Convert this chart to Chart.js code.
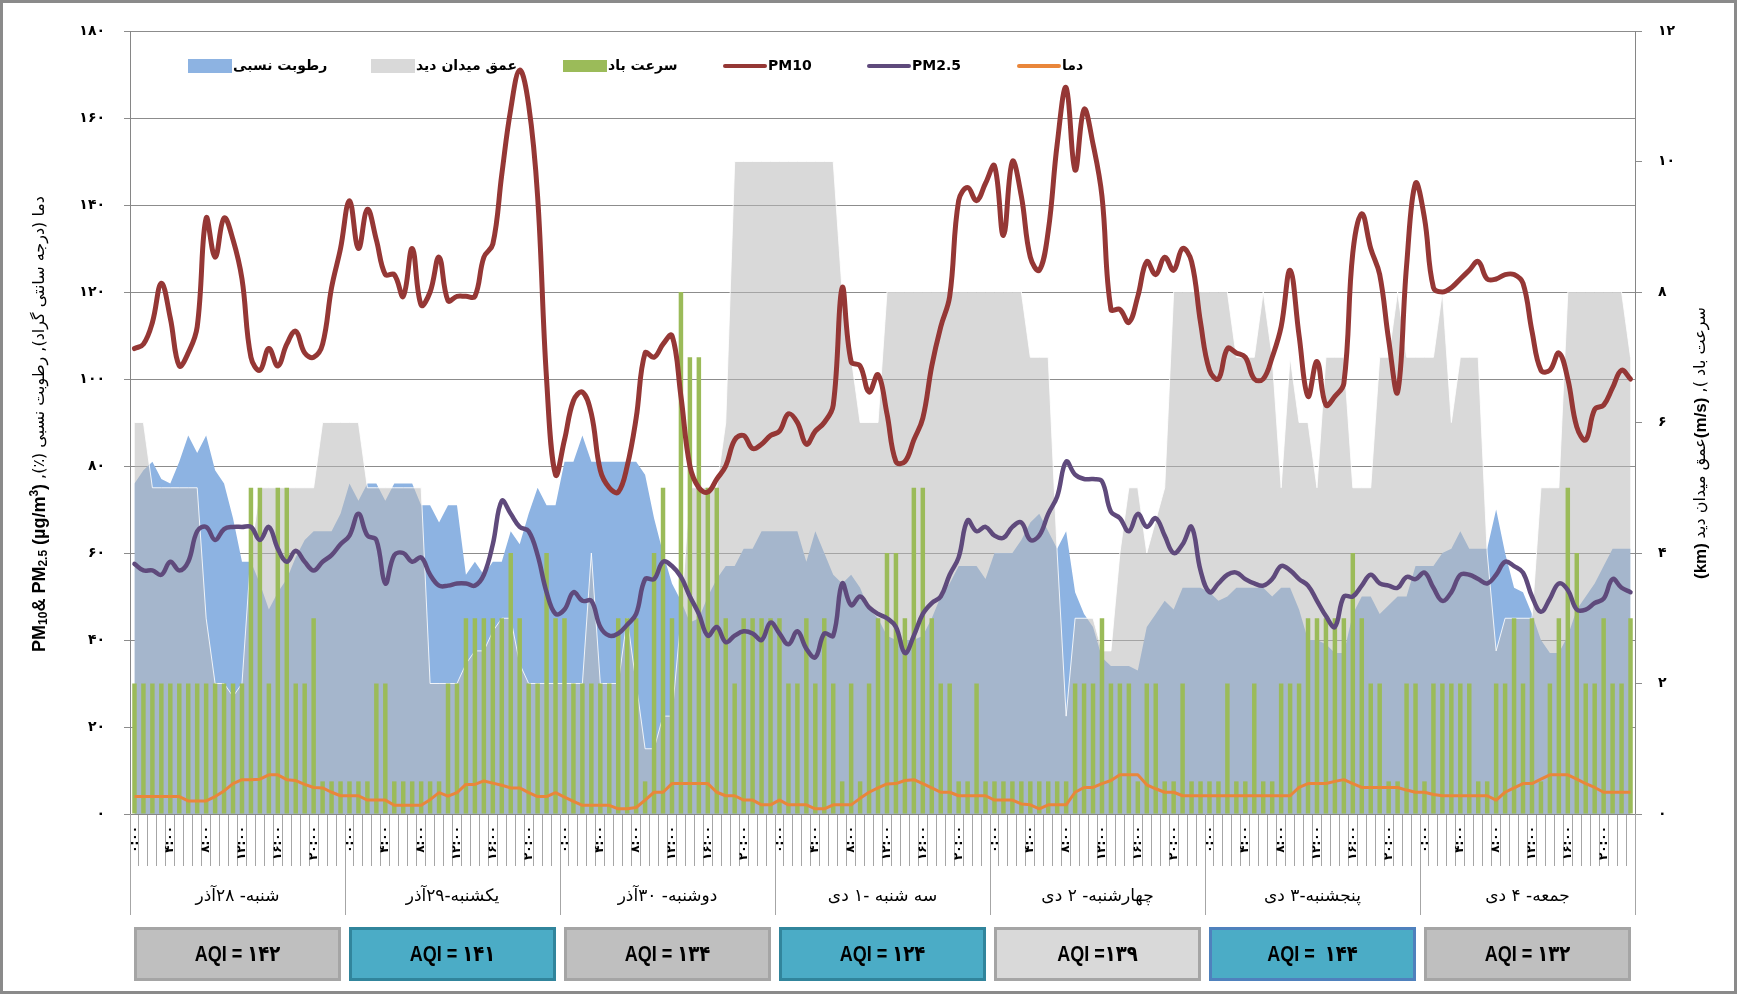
<!DOCTYPE html>
<html>
<head>
<meta charset="utf-8">
<script src="https://cdn.jsdelivr.net/npm/chart.js@4.4.1/dist/chart.umd.min.js"></script>
<style>
  html, body { margin: 0; padding: 0; background: #fff; overflow: hidden; }
  #wrap { position: relative; width: 1737px; height: 994px; }
</style>
</head>
<body>
<div id="wrap"><canvas id="chart" width="1737" height="994"></canvas></div>
<script>
// روزها و ساعت ها
const days = ['شنبه- ۲۸آذر', 'یکشنبه-۲۹آذر', 'دوشنبه- ۳۰آذر', 'سه شنبه -۱ دی',
              'چهارشنبه- ۲ دی', 'پنجشنبه-۳ دی', 'جمعه- ۴ دی'];
const hourTicks = ['۰:۰۰', '۴:۰۰', '۸:۰۰', '۱۲:۰۰', '۱۶:۰۰', '۲۰:۰۰'];
const aqiLabels = ['AQI = ۱۴۲', 'AQI = ۱۴۱', 'AQI = ۱۳۴', 'AQI = ۱۲۴', 'AQI =۱۳۹', 'AQI =  ۱۴۴', 'AQI = ۱۳۲'];
const aqiFill = ['#bfbfbf', '#4bacc6', '#bfbfbf', '#4bacc6', '#d9d9d9', '#4bacc6', '#bfbfbf'];
const aqiBorder = ['#a5a5a5', '#31859c', '#a5a5a5', '#31859c', '#a5a5a5', '#4f81bd', '#a5a5a5'];

// رطوبت نسبی (%)
const humidity = [
  76,79,81,77,76,81,87,83,87,79,76,68,58,58,53,47,51,54,59,63,65,65,65,69,
  76,72,76,76,72,76,76,76,71,71,67,71,71,55,58,55,58,58,65,62,69,75,71,71,
  81,81,87,81,81,81,81,81,81,78,68,60,53,49,44,45,50,54,57,57,61,61,65,65,
  65,65,65,58,65,60,55,53,55,52,47,45,41,40,40,40,41,45,50,53,57,57,57,54,
  60,60,60,63,67,69,65,61,65,51,46,43,36,34,34,34,33,43,46,49,47,52,52,52,
  51,49,50,52,52,52,52,50,52,52,47,40,40,39,37,37,46,50,50,46,48,50,50,57,
  57,57,60,61,65,61,61,61,70,60,52,51,46,40,37,37,41,47,50,53,57,61,61,61
];
// عمق میدان دید (km)
const visibility = [
  6,6,5,5,5,5,5,5,3,2,2,1.8,2,4,5,5,5,5,5,5,5,6,6,6,
  6,6,5,5,5,5,5,5,5,2,2,2,2,2.3,2.5,2.5,2.8,3,3,2.3,2,2,2,2,
  2,2,2,4,2,2,2,3,2,1,1,1.5,1.5,3,5,5,5,5,6,10,10,10,10,10,
  10,10,10,10,10,10,10,8,7,6,6,6,8,8,8,8,8,8,8,8,8,8,8,8,
  8,8,8,8,7,7,7,4,1.5,3,3,3,2.5,2.5,4,5,5,4,4.5,5,8,8,8,8,
  8,8,8,7,7,7,8,7,5,7,6,6,5,7,7,7,5,5,5,7,7,8,7,7,
  7,7,8,6,7,7,7,4,2.5,3,3,3,3,5,5,5,8,8,8,8,8,8,8,7
];
// سرعت باد (m/s)
const wind = [
  2,2,2,2,2,2,2,2,2,2,2,2,2,5,5,2,5,5,2,2,3,0.5,0.5,0.5,
  0.5,0.5,0.5,2,2,0.5,0.5,0.5,0.5,0.5,0.5,2,2,3,3,3,3,3,4,3,2,2,4,3,
  3,2,2,2,2,2,3,3,3,0.5,4,5,3,8,7,7,5,5,3,2,3,3,3,3,
  3,2,2,3,2,3,2,0.5,2,0.5,2,3,4,4,3,5,5,3,2,2,0.5,0.5,2,0.5,
  0.5,0.5,0.5,0.5,0.5,0.5,0.5,0.5,0.5,2,2,2,3,2,2,2,0.5,2,2,0.5,0.5,2,0.5,0.5,
  0.5,0.5,2,0.5,0.5,2,0.5,0.5,2,2,2,3,3,3,3,3,4,3,2,2,0.5,0.5,2,2,
  0.5,2,2,2,2,2,0.5,0.5,2,2,3,2,3,0.5,2,3,5,4,2,2,3,2,2,3
];
// PM10 (µg/m3)
const pm10 = [
  107,108,113,122,114,103,106,112,137,128,137,132,123,105,102,107,103,108,111,106,105,108,121,130,
  141,130,139,132,124,124,119,130,117,120,128,118,119,119,119,128,131,147,162,171,163,142,100,78,
  86,95,97,92,79,75,74,80,91,106,105,108,110,96,80,75,74,77,80,86,87,84,85,87,
  88,92,90,85,88,90,94,121,104,103,97,101,92,81,81,86,91,103,112,119,141,144,141,145,
  149,133,150,142,128,125,134,154,167,148,162,154,142,116,116,113,119,127,124,128,125,130,127,113,
  102,100,107,106,105,100,100,105,112,125,110,96,104,94,96,99,129,138,130,124,109,97,126,145,
  137,121,120,121,123,125,127,123,123,124,124,122,111,102,102,106,100,89,86,93,94,98,102,100
];
// PM2.5 (µg/m3)
const pm25 = [
  57.5,56,56,55,58,56,58,65,66,63,65.5,66,66,66,63,66,61,58,60.5,58,56,58,59.5,62,
  64,69,64,63,53,59.5,60,58,59,55,52.5,52.5,53,53,52.5,55,62,72,69,66,65,59.5,51,46,
  47,51,49,49,43,41,41.5,43.5,46,54,54,58,57,54.5,50,46,41,43,39.5,41,42,41.5,40,44,
  41.5,39,42,38,36,41.5,41,53,48,50,47.5,46,45,43,37,41,46,48.5,50,55,59,67.5,65,66,
  64,63.5,66,67,63,64,69,73,81,78,77,77,76.5,69.5,68,65,69,66,68,64,60,62,66,56,
  51,53,55,55.5,54,53,52.5,54,57,56,54,52.5,49,45.5,43,50,50,52.5,55,53,52.5,52,54.5,54,
  55.5,52,49,51,55,55,54,53,55,58,57,55.5,50,46.5,49.5,53,51.5,47,47,48.5,49.5,54,52,51
];
// دما (درجه سانتی گراد)
const temperature = [
  4,4,4,4,4,4,3,3,3,4,5.3,7,7.9,7.9,8,9,9,7.9,7.7,6.8,6.1,6,5,4.2,
  4.2,4.2,3.2,3.2,3.2,2,2,2,2,3.3,4.9,4.1,4.9,6.8,6.8,7.6,7.1,6.6,6,6,4.9,4,4,4.9,
  3.9,2.9,2,2,2,2,1.2,1.2,1.5,3.2,5,5,7,7,7,7,7,5,4.2,4.2,3.2,3.2,2.1,2.1,
  3.2,2.1,2.1,2.1,1.2,1.2,2.1,2.1,2.1,3.6,5,6,6.9,7,7.7,7.9,7,6,5,5,4.2,4.2,4.2,4.2,
  3.2,3.2,3.2,2.3,2.1,1.2,2.1,2.1,2.1,5,6.1,6.1,7,7.7,9,9,9,6.7,5.8,5,5,4.2,4.2,4.2,
  4.2,4.2,4.2,4.2,4.2,4.2,4.2,4.2,4.2,4.2,6.1,7,7,7,7.5,7.9,7,6.1,6.1,6.1,6.1,6.1,5.5,5,
  5,4.5,4.2,4.2,4.2,4.2,4.2,4.2,3.2,5,6,7,7,8,9,9,9,8,7,6.1,5,5,5,5
];

const toFa = s => String(s).replace(/\d/g, d => '۰۱۲۳۴۵۶۷۸۹'[d]);

// یک دسته برای هر ساعت
const labels = [];
days.forEach((d, k) => { for (let h = 0; h < 24; h++) labels.push(k + '-' + h); });

const FA = '"DejaVu Sans", sans-serif';
const BOLD_LAT = '"Liberation Sans", "DejaVu Sans", sans-serif';

function drawRotated(ctx, segs, cx, cy) {
  ctx.save();
  ctx.translate(cx, cy);
  ctx.rotate(-Math.PI / 2);
  ctx.textBaseline = 'middle';
  ctx.fillStyle = '#000';
  let total = 0;
  segs.forEach(s => {
    ctx.font = s.font; ctx.direction = s.dir || 'ltr';
    s.w = ctx.measureText(s.text).width; total += s.w;
  });
  let x = -total / 2;
  segs.forEach(s => {
    ctx.font = s.font;
    ctx.direction = s.dir || 'ltr';
    ctx.textAlign = s.dir === 'rtl' ? 'right' : 'left';
    ctx.fillText(s.text, s.dir === 'rtl' ? x + s.w : x, s.dy || 0);
    x += s.w;
  });
  ctx.restore();
}

const decor = {
  id: 'decor',
  afterDraw(chart) {
    const ctx = chart.ctx, xs = chart.scales.x, area = chart.chartArea;
    const step = xs.getPixelForValue(1) - xs.getPixelForValue(0);
    ctx.save();

    // جداکننده روزها، نام روز و جعبه AQI
    for (let k = 0; k < days.length; k++) {
      const x0 = xs.getPixelForValue(k * 24) - step / 2;
      const x1 = xs.getPixelForValue(k * 24 + 23) + step / 2;
      ctx.strokeStyle = '#a6a6a6';
      ctx.lineWidth = 1;
      ctx.beginPath();
      ctx.moveTo(Math.round(x0) + 0.5, area.bottom);
      ctx.lineTo(Math.round(x0) + 0.5, area.bottom + 101);
      if (k === days.length - 1) {
        ctx.moveTo(Math.round(x1) + 0.5, area.bottom);
        ctx.lineTo(Math.round(x1) + 0.5, area.bottom + 101);
      }
      ctx.stroke();

      ctx.fillStyle = '#000';
      ctx.font = '17px ' + FA;
      ctx.textAlign = 'center';
      ctx.textBaseline = 'middle';
      ctx.direction = 'rtl';
      ctx.fillText(days[k], (x0 + x1) / 2, area.bottom + 83);
      ctx.direction = 'ltr';

      const bx = x0 + 4, bw = x1 - x0 - 8, by = area.bottom + 113, bh = 54;
      ctx.fillStyle = aqiFill[k];
      ctx.fillRect(bx, by, bw, bh);
      ctx.strokeStyle = aqiBorder[k];
      ctx.lineWidth = 3;
      ctx.strokeRect(bx + 1.5, by + 1.5, bw - 3, bh - 3);
      ctx.fillStyle = '#000';
      ctx.textAlign = 'center';
      ctx.save();
      ctx.translate(bx + bw / 2, by + bh / 2 + 1);
      ctx.scale(0.82, 1);
      ctx.font = 'bold 22px "Liberation Sans", "DejaVu Sans", sans-serif';
      ctx.fillText(aqiLabels[k], 0, 0);
      ctx.restore();
    }

    // عنوان محورها
    drawRotated(ctx, [
      { text: 'PM', font: 'bold 18px ' + BOLD_LAT },
      { text: '10', font: 'bold 12px ' + BOLD_LAT, dy: 4 },
      { text: '& PM', font: 'bold 18px ' + BOLD_LAT },
      { text: '2.5', font: 'bold 12px ' + BOLD_LAT, dy: 4 },
      { text: ' (µg/m', font: 'bold 18px ' + BOLD_LAT },
      { text: '3', font: 'bold 12px ' + BOLD_LAT, dy: -5 },
      { text: ') ', font: 'bold 18px ' + BOLD_LAT },
      { text: 'دما (درجه سانتی گراد), رطوبت نسبی (٪),', font: '16px ' + FA, dir: 'rtl' }
    ], 40, 424);
    drawRotated(ctx, [
      { text: '(km) ', font: 'bold 17px ' + BOLD_LAT },
      { text: 'عمق میدان دید', font: '16px ' + FA, dir: 'rtl' },
      { text: '(m/s)', font: 'bold 17px ' + BOLD_LAT },
      { text: ' ,( ', font: '16px ' + FA },
      { text: 'سرعت باد', font: '16px ' + FA, dir: 'rtl' }
    ], 1701, 443);

    // راهنما
    const offsets = [58, 241, 433, 593, 737, 887];
    const ly = area.top + 35;
    chart.data.datasets.forEach((ds, i) => {
      const x = area.left + offsets[i];
      if (ds.type === 'line' && !ds.fill) {
        ctx.strokeStyle = ds.borderColor;
        ctx.lineWidth = 4;
        ctx.lineCap = 'round';
        ctx.beginPath();
        ctx.moveTo(x + 2, ly);
        ctx.lineTo(x + 42, ly);
        ctx.stroke();
      } else {
        ctx.fillStyle = ds.legendColor || ds.backgroundColor;
        const h = ds.type === 'bar' ? 12 : 14;
        ctx.fillRect(x, ly - h / 2, 44, h);
      }
      ctx.fillStyle = '#000';
      ctx.font = 'bold 14px ' + FA;
      ctx.textAlign = 'left';
      ctx.textBaseline = 'middle';
      ctx.fillText(ds.label, x + 45, ly);
    });

    // قاب بیرونی
    ctx.strokeStyle = '#8a8a8a';
    ctx.lineWidth = 3;
    ctx.strokeRect(1.5, 1.5, chart.width - 3, chart.height - 3);
    ctx.restore();
  }
};

const ctx = document.getElementById('chart').getContext('2d');
new Chart(ctx, {
  type: 'bar',
  data: {
    labels: labels,
    datasets: [
      { type: 'line', label: 'رطوبت نسبی', data: humidity, yAxisID: 'y', backgroundColor: '#8db3e2',
        borderWidth: 0, fill: 'origin', pointRadius: 0, tension: 0, order: 6 },
      { type: 'line', label: 'عمق میدان دید', data: visibility, yAxisID: 'y1', backgroundColor: 'rgba(185,185,185,0.545)',
        legendColor: '#d9d9d9', borderColor: 'rgba(255,255,255,0.85)', borderWidth: 1, fill: 'origin', pointRadius: 0, tension: 0, order: 5 },
      { type: 'bar', label: 'سرعت باد', data: wind, yAxisID: 'y1', backgroundColor: '#9bbb59',
        barPercentage: 0.5, categoryPercentage: 1, order: 4 },
      { type: 'line', label: 'PM10', data: pm10, yAxisID: 'y', borderColor: '#953735', borderWidth: 5,
        pointRadius: 0, tension: 0.4, fill: false, borderJoinStyle: 'round', borderCapStyle: 'round', order: 3 },
      { type: 'line', label: 'PM2.5', data: pm25, yAxisID: 'y', borderColor: '#5f4a7c', borderWidth: 4.5,
        pointRadius: 0, tension: 0.4, fill: false, borderJoinStyle: 'round', borderCapStyle: 'round', order: 2 },
      { type: 'line', label: 'دما', data: temperature, yAxisID: 'y', borderColor: '#e9863a', borderWidth: 3,
        pointRadius: 0, tension: 0, fill: false, borderJoinStyle: 'round', order: 1 }
    ]
  },
  options: {
    responsive: false,
    animation: false,
    devicePixelRatio: 1,
    layout: { padding: { top: 31, left: 0, right: 0, bottom: 0 } },
    plugins: { legend: { display: false }, tooltip: { enabled: false } },
    scales: {
      x: {
        offset: true,
        grid: { offset: true, drawOnChartArea: false, drawTicks: true, tickLength: 52, color: '#a6a6a6' },
        border: { color: '#868686' },
        ticks: {
          autoSkip: false, maxRotation: 90, minRotation: 90, padding: -40, color: '#000',
          font: { family: FA, size: 12, weight: 'bold' },
          callback: (v, i) => (i % 4 === 0 ? hourTicks[(i % 24) / 4] : '')
        },
        afterFit: s => { s.height = 180; }
      },
      y: {
        position: 'left', min: 0, max: 180,
        grid: { color: '#8c8c8c', tickLength: 6 },
        border: { color: '#868686' },
        ticks: { stepSize: 20, padding: 19, color: '#000', font: { family: FA, size: 14, weight: 'bold' }, callback: v => toFa(v) },
        afterFit: s => { s.width = 130; }
      },
      y1: {
        position: 'right', min: 0, max: 12,
        grid: { drawOnChartArea: false, color: '#8c8c8c', tickLength: 7 },
        border: { color: '#868686' },
        ticks: { stepSize: 2, padding: 16, color: '#000', font: { family: FA, size: 14, weight: 'bold' }, callback: v => toFa(v) },
        afterFit: s => { s.width = 102; }
      }
    }
  },
  plugins: [decor]
});
</script>
</body>
</html>
